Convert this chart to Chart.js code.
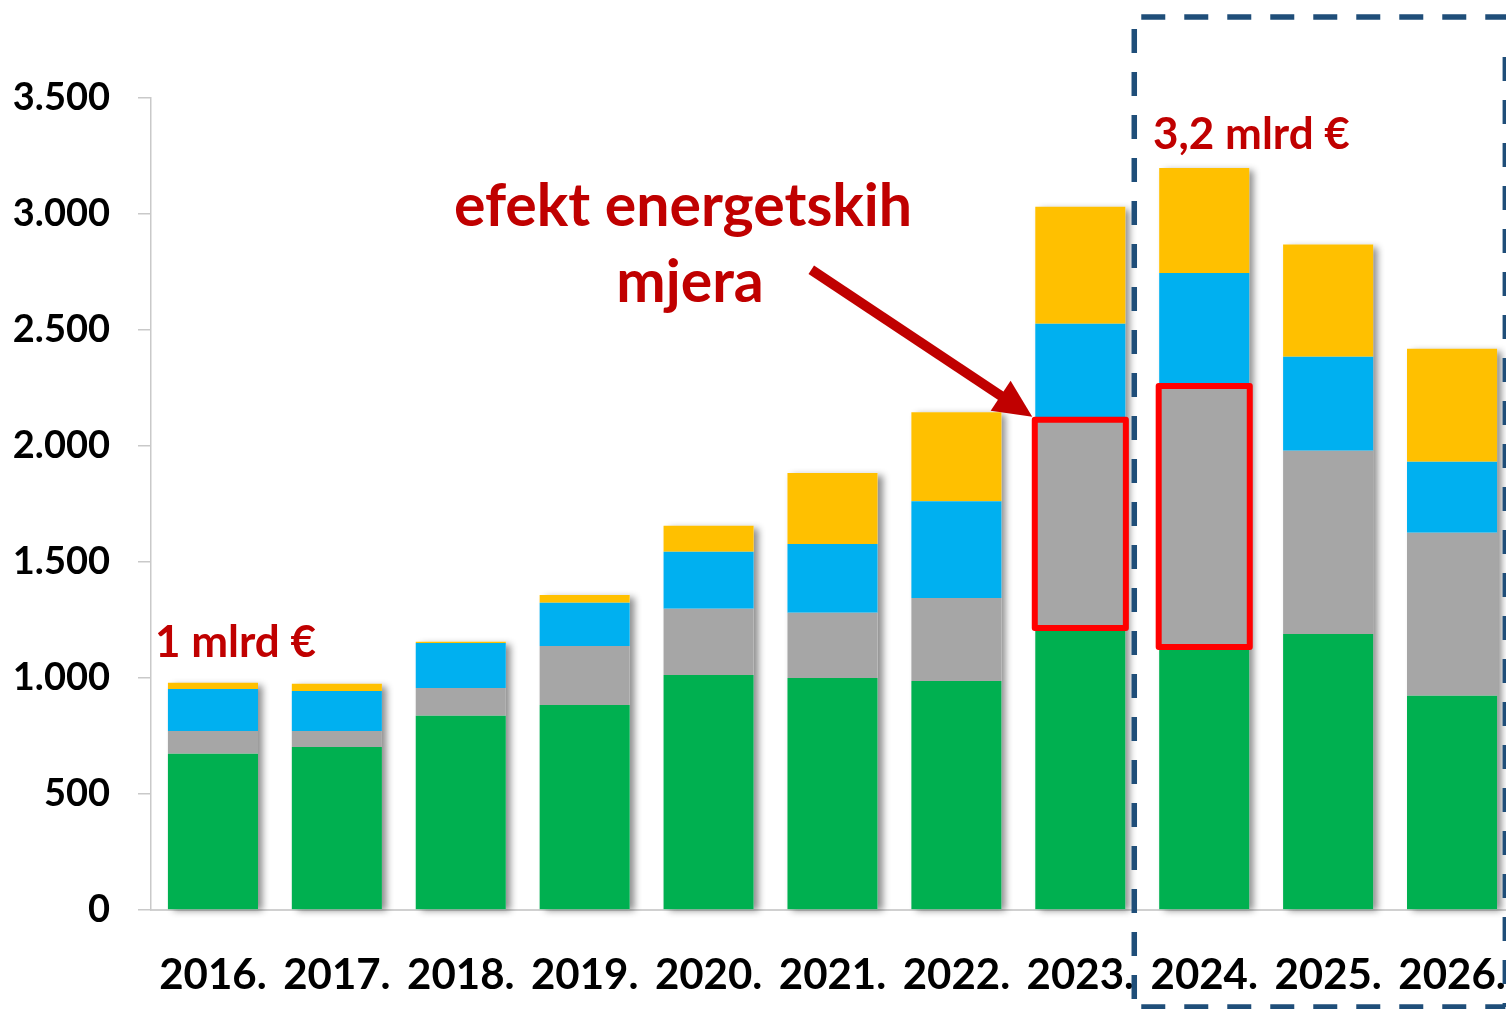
<!DOCTYPE html>
<html>
<head>
<meta charset="utf-8">
<title>Troškovi</title>
<script src="https://cdn.jsdelivr.net/npm/chart.js@4/dist/chart.umd.min.js"></script>
<style>
    html, body { margin: 0; padding: 0; background: #fff; overflow: hidden; }
    #wrap { width: 1520px; height: 1009px; }
</style>
</head>
<body>
<div id="wrap"><canvas id="mainChart" width="1520" height="1009"></canvas></div>
<script>
const years = ['2016.', '2017.', '2018.', '2019.', '2020.', '2021.', '2022.', '2023.', '2024.', '2025.', '2026.'];

const greenVals  = [673, 703, 837, 884, 1013, 1000, 987, 1216, 1134, 1190, 923];
const grayVals   = [99, 69, 120, 254, 285, 281, 358, 897, 1125, 789, 703];
const blueVals   = [181, 172, 194, 186, 246, 297, 417, 414, 487, 406, 306];
const yellowVals = [26, 31, 5, 34, 112, 306, 383, 504, 452, 483, 487];

const yTicks = [0, 500, 1000, 1500, 2000, 2500, 3000, 3500];

// which years get the red box around the grey part
const highlighted = [7, 8];

const FONT = 'Lato, "Open Sans", sans-serif';
const DARK_RED = '#c00000';

function fmt(v) {
    return String(v).replace(/\B(?=(\d{3})+(?!\d))/g, '.');
}

// soft shadow behind each whole stack
const barShadow = {
    id: 'barShadow',
    beforeDatasetsDraw(chart) {
        const ctx = chart.ctx;
        const first = chart.getDatasetMeta(0).data;
        const last = chart.getDatasetMeta(chart.data.datasets.length - 1).data;
        ctx.save();
        ctx.fillStyle = '#ffffff';
        ctx.shadowColor = 'rgba(0, 0, 0, 0.45)';
        ctx.shadowBlur = 7;
        ctx.shadowOffsetX = 5;
        ctx.shadowOffsetY = 2;
        first.forEach((el, i) => {
            const top = last[i].y;
            ctx.fillRect(el.x - el.width / 2, top, el.width, el.base - top);
        });
        ctx.restore();
    }
};

const annotations = {
    id: 'annotations',
    afterDraw(chart) {
        const ctx = chart.ctx;
        const x = chart.scales.x;
        const grayMeta = chart.getDatasetMeta(1).data;
        const step = x.getPixelForValue(1) - x.getPixelForValue(0);

        ctx.save();

        // red frames
        ctx.strokeStyle = '#ff0000';
        ctx.lineWidth = 6;
        ctx.lineJoin = 'round';
        highlighted.forEach(i => {
            const el = grayMeta[i];
            ctx.strokeRect(el.x - el.width / 2 - 0.5, el.y, el.width + 1, el.base - el.y);
        });

        // dashed frame around the forecast years
        const left = (x.getPixelForValue(7) + x.getPixelForValue(8)) / 2 - 8;
        const right = x.getPixelForValue(10) + step * 0.43;
        const top = 17, bottom = 1007;
        ctx.strokeStyle = '#1f4e79';
        ctx.lineWidth = 5.5;
        ctx.lineJoin = 'miter';
        ctx.setLineDash([24, 19]);
        ctx.beginPath();
        ctx.moveTo(left + 7, top); ctx.lineTo(right + 20, top);
        ctx.moveTo(left, top + 12); ctx.lineTo(left, bottom);
        ctx.moveTo(right, top + 40); ctx.lineTo(right, bottom);
        ctx.moveTo(left + 7, bottom); ctx.lineTo(right, bottom);
        ctx.stroke();
        ctx.setLineDash([]);

        // arrow to the 2023 frame
        const target = grayMeta[7];
        const tipX = target.x - target.width / 2 - 3;
        const tipY = target.y - 3;
        const tailX = tipX - 221, tailY = tipY - 147;
        const ang = Math.atan2(tipY - tailY, tipX - tailX);
        const headLen = 38, headHalf = 18;
        const bx = tipX - headLen * Math.cos(ang);
        const by = tipY - headLen * Math.sin(ang);
        ctx.strokeStyle = DARK_RED;
        ctx.fillStyle = DARK_RED;
        ctx.lineWidth = 10;
        ctx.lineCap = 'butt';
        ctx.beginPath();
        ctx.moveTo(tailX, tailY);
        ctx.lineTo(bx + 4 * Math.cos(ang), by + 4 * Math.sin(ang));
        ctx.stroke();
        ctx.beginPath();
        ctx.moveTo(tipX, tipY);
        ctx.lineTo(bx + headHalf * Math.sin(ang), by - headHalf * Math.cos(ang));
        ctx.lineTo(bx - headHalf * Math.sin(ang), by + headHalf * Math.cos(ang));
        ctx.closePath();
        ctx.fill();

        // labels
        ctx.textBaseline = 'alphabetic';
        ctx.font = 'bold 59px ' + FONT;
        ctx.textAlign = 'center';
        ctx.fillText('efekt energetskih', 683, 226);
        ctx.fillText('mjera', 690, 302);

        ctx.textAlign = 'left';
        ctx.font = 'bold 44px ' + FONT;
        ctx.fillText('1 mlrd €', 155, 657);
        ctx.fillText('3,2 mlrd €', 1153, 149);

        ctx.restore();
    }
};

const ctx = document.getElementById('mainChart');
new Chart(ctx, {
    type: 'bar',
    data: {
        labels: years,
        datasets: [
            { label: 'green', data: greenVals, backgroundColor: '#00b050' },
            { label: 'gray', data: grayVals, backgroundColor: '#a6a6a6' },
            { label: 'blue', data: blueVals, backgroundColor: '#00b0f0' },
            { label: 'yellow', data: yellowVals, backgroundColor: '#ffc000' }
        ]
    },
    options: {
        responsive: false,
        animation: false,
        events: [],
        layout: { padding: { top: 98, right: 6, left: 0, bottom: 0 } },
        datasets: {
            bar: { barPercentage: 0.727, categoryPercentage: 1, borderWidth: 0 }
        },
        plugins: {
            legend: { display: false },
            tooltip: { enabled: false }
        },
        scales: {
            x: {
                stacked: true,
                offset: true,
                grid: { display: false, drawTicks: false },
                border: { display: true, color: '#d0d0d0', width: 2 },
                ticks: {
                    color: '#000',
                    padding: 40,
                    maxRotation: 0,
                    autoSkip: false,
                    font: { family: FONT, size: 42, weight: 'bold', lineHeight: 1.2 }
                },
                afterFit: s => {
                    s.height = 99;
                    s.paddingLeft = 0;
                    s.paddingRight = 0;
                }
            },
            y: {
                stacked: true,
                min: 0,
                max: 3500,
                afterBuildTicks: s => { s.ticks = yTicks.map(v => ({ value: v })); },
                grid: { drawOnChartArea: false, drawTicks: true, tickLength: 13, color: '#c9c9c9', lineWidth: 1.5 },
                border: { display: true, color: '#c9c9c9', width: 1.5 },
                ticks: {
                    color: '#000',
                    padding: 28,
                    font: { family: FONT, size: 38, weight: 'bold' },
                    callback: v => fmt(v)
                },
                afterFit: s => { s.width = 151; }
            }
        }
    },
    plugins: [barShadow, annotations]
});
</script>
</body>
</html>
